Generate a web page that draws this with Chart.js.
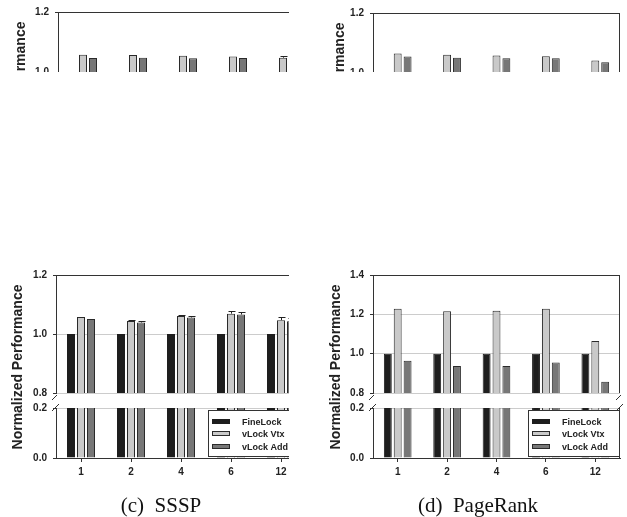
<!DOCTYPE html>
<html>
<head>
<meta charset="utf-8">
<script src="https://cdn.jsdelivr.net/npm/chart.js@4.4.0/dist/chart.umd.min.js"></script>
<style>
body { margin: 0; background: #fff; width: 627px; height: 517px; overflow: hidden; position: relative; }
.panel { position: absolute; overflow: hidden; }
.panel canvas { position: absolute; left: 0; }
.ytitle { position: absolute; width: 220px; height: 16px; line-height: 16px; text-align: center; font: bold 14px 'Liberation Sans', Arial, sans-serif; color: #222; transform: rotate(-90deg); white-space: nowrap; }
.caption { position: absolute; width: 200px; line-height: 24px; text-align: center; font: 21px 'Liberation Serif', 'Times New Roman', serif; color: #111; white-space: pre; }
</style>
</head>
<body>
<div class="panel" style="left:0;top:0;width:289px;height:72px;">
  <canvas id="upperA" width="330" height="145" style="top:0"></canvas>
  <div class="ytitle" style="left:-90px;top:95.5px;">Normalized Performance</div>
</div>
<div class="panel" style="left:310px;top:0;width:317px;height:72px;">
  <canvas id="upperB" width="317" height="145" style="top:0"></canvas>
  <div class="ytitle" style="left:-81.5px;top:96.5px;">Normalized Performance</div>
</div>
<div class="panel" style="left:0;top:255px;width:289px;height:262px;">
  <canvas id="upperC" width="330" height="145" style="top:5px"></canvas>
  <canvas id="lowerC" width="330" height="90" style="top:140px"></canvas>
  <div class="ytitle" style="left:-93px;top:104px;">Normalized Performance</div>
  <div class="caption" style="left:61px;top:238px;">(c)  SSSP</div>
</div>
<div class="panel" style="left:310px;top:255px;width:317px;height:262px;">
  <canvas id="upperD" width="317" height="145" style="top:5px"></canvas>
  <canvas id="lowerD" width="317" height="90" style="top:140px"></canvas>
  <div class="ytitle" style="left:-85px;top:104px;">Normalized Performance</div>
  <div class="caption" style="left:68px;top:238px;">(d)  PageRank</div>
</div>
<script>
var threads = ['1', '2', '4', '6', '12'];
var seriesNames = ['FineLock', 'vLock Vtx', 'vLock Add'];

var fineLock = [1.0, 1.0, 1.0, 1.0, 1.0];

// top-left panel (only its top is visible)
var vtxA = [1.059, 1.058, 1.055, 1.053, 1.049];
var addA = [1.048, 1.049, 1.047, 1.048, 1.044];
var vtxErrA = [0, 0, 0, 0, 0.004];
var addErrA = [0, 0, 0, 0, 0];

// top-right panel
var vtxB = [1.065, 1.061, 1.058, 1.056, 1.042];
var addB = [1.055, 1.051, 1.049, 1.049, 1.036];
var vtxErrB = [0, 0, 0, 0, 0];
var addErrB = [0, 0, 0, 0, 0];

// (c) SSSP
var vtxC = [1.058, 1.044, 1.061, 1.069, 1.047];
var addC = [1.051, 1.039, 1.056, 1.066, 1.043];
var vtxErrC = [0, 0.005, 0.003, 0.009, 0.011];
var addErrC = [0, 0.006, 0.004, 0.008, 0.010];

// (d) PageRank
var vtxD = [1.229, 1.216, 1.218, 1.229, 1.065];
var addD = [0.964, 0.937, 0.937, 0.955, 0.857];
var vtxErrD = [0, 0, 0, 0, 0];
var addErrD = [0, 0, 0, 0, 0];

var upperTicks = [0.8, 1.0, 1.2];
var upperTicksD = [0.8, 1.0, 1.2, 1.4];
var lowerTicks = [0.0, 0.2];

var labelFont = { family: 'Liberation Sans', size: 10, weight: 'bold' };

var errorBarsPlugin = {
    id: 'errorBars',
    afterDatasetsDraw: function (chart) {
        var ctx = chart.ctx;
        var a = chart.chartArea;
        var y = chart.scales.y;
        ctx.save();
        ctx.beginPath();
        ctx.rect(a.left, a.top - 1, a.right - a.left, a.bottom - a.top + 1);
        ctx.clip();
        ctx.strokeStyle = '#222';
        ctx.lineWidth = 1;
        chart.data.datasets.forEach(function (ds, i) {
            if (!ds.errors) return;
            chart.getDatasetMeta(i).data.forEach(function (bar, j) {
                var e = ds.errors[j];
                if (!e) return;
                var top = Math.round(y.getPixelForValue(ds.data[j] + e)) + 0.5;
                var x = Math.round(bar.x) + 0.5;
                ctx.beginPath();
                ctx.moveTo(x, bar.y);
                ctx.lineTo(x, top);
                ctx.moveTo(x - 3, top);
                ctx.lineTo(x + 4, top);
                ctx.stroke();
            });
        });
        ctx.restore();
    }
};

var framePlugin = {
    id: 'frame',
    afterDatasetsDraw: function (chart, args, opts) {
        var a = chart.chartArea;
        var ctx = chart.ctx;
        ctx.save();
        ctx.strokeStyle = '#333';
        ctx.lineWidth = 1;
        if (opts.right) {
            var rx = Math.round(a.right) - 0.5;
            ctx.beginPath();
            ctx.moveTo(rx, a.top);
            ctx.lineTo(rx, a.bottom);
            ctx.stroke();
        }
        if (opts.breakGap) {
            var xs = [a.left];
            if (opts.right) xs.push(a.right);
            xs.forEach(function (x) {
                [a.top - opts.breakGap, a.top].forEach(function (y) {
                    ctx.beginPath();
                    ctx.moveTo(x - 4, y + 3);
                    ctx.lineTo(x + 3, y - 4);
                    ctx.stroke();
                });
            });
        }
        if (opts.legendLeft) {
            var lx = Math.round(a.left + opts.legendLeft);
            var ly = Math.round(a.top) + 2;
            var lw = opts.legendWidth;
            var lh = Math.round(a.bottom) - 1 - ly;
            ctx.fillStyle = '#fff';
            ctx.fillRect(lx, ly, lw, lh);
            ctx.strokeRect(lx + 0.5, ly + 0.5, lw - 1, lh - 1);
            ctx.font = 'bold 9px "Liberation Sans"';
            ctx.textBaseline = 'middle';
            chart.data.datasets.forEach(function (ds, i) {
                var ry = ly + 12 + Math.round(i * 12.3);
                ctx.fillStyle = ds.backgroundColor;
                ctx.fillRect(lx + 4, ry - 3, 18, 5);
                ctx.strokeStyle = ds.borderColor;
                ctx.strokeRect(lx + 4.5, ry - 2.5, 17, 4);
                ctx.fillStyle = '#222';
                ctx.fillText(ds.label, lx + 34, ry + 0.5);
            });
        }
        ctx.restore();
    }
};

function barData(vtx, add, vtxErr, addErr) {
    return {
        labels: threads,
        datasets: [
            { label: seriesNames[0], data: fineLock.slice(), backgroundColor: '#1e1e1e', borderColor: '#1e1e1e', borderWidth: 1 },
            { label: seriesNames[1], data: vtx.slice(), errors: vtxErr, backgroundColor: '#c9c9c9', borderColor: '#2a2a2a', borderWidth: 1 },
            { label: seriesNames[2], data: add.slice(), errors: addErr, backgroundColor: '#777777', borderColor: '#2a2a2a', borderWidth: 1 }
        ]
    };
}

function yAxis(ticks, width, darkValue) {
    return {
        min: ticks[0],
        max: ticks[ticks.length - 1],
        afterFit: function (s) { s.width = width; },
        afterBuildTicks: function (s) {
            s.ticks = ticks.map(function (v) { return { value: v }; });
        },
        ticks: {
            padding: 6,
            color: '#222',
            font: labelFont,
            callback: function (v) { return Number(v).toFixed(1); }
        },
        grid: {
            color: function (c) {
                return Math.abs(c.tick.value - darkValue) < 1e-6 ? '#333' : '#cccccc';
            },
            tickColor: '#333',
            tickLength: 3
        },
        border: { color: '#333' }
    };
}

function createUpper(id, vtx, add, vtxErr, addErr, ticks, yWidth, padTop, padRight) {
    var config = {
        type: 'bar',
        data: barData(vtx, add, vtxErr, addErr),
        options: {
            responsive: false,
            animation: false,
            events: [],
            categoryPercentage: 0.6,
            barPercentage: 0.8,
            layout: { padding: { top: padTop, right: padRight, bottom: 8, left: 0 } },
            scales: {
                x: { display: false },
                y: yAxis(ticks, yWidth, ticks[ticks.length - 1])
            },
            plugins: {
                legend: { display: false },
                tooltip: { enabled: false },
                frame: { right: true }
            }
        },
        plugins: [errorBarsPlugin, framePlugin]
    };
    return new Chart(document.getElementById(id), config);
}

function createLower(id, vtx, add, yWidth, padRight, legendLeft, legendWidth) {
    var config = {
        type: 'bar',
        data: barData(vtx, add, null, null),
        options: {
            responsive: false,
            animation: false,
            events: [],
            categoryPercentage: 0.6,
            barPercentage: 0.8,
            layout: { padding: { top: 13, right: padRight, bottom: 0, left: 0 } },
            scales: {
                x: {
                    afterFit: function (s) { s.height = 27; },
                    ticks: { padding: 4, color: '#222', font: labelFont },
                    grid: { offset: false, drawOnChartArea: false, tickLength: 4, color: '#333' },
                    border: { color: '#333' }
                },
                y: yAxis(lowerTicks, yWidth, lowerTicks[0])
            },
            plugins: {
                legend: { display: false },
                tooltip: { enabled: false },
                frame: { right: true, breakGap: 11, legendLeft: legendLeft, legendWidth: legendWidth }
            }
        },
        plugins: [framePlugin]
    };
    return new Chart(document.getElementById(id), config);
}

createUpper('upperA', vtxA, addA, vtxErrA, addErrA, upperTicks, 58, 11, 22);
createUpper('upperB', vtxB, addB, vtxErrB, addErrB, upperTicks, 63, 13, 7);
createUpper('upperC', vtxC, addC, vtxErrC, addErrC, upperTicks, 56, 15, 24);
createLower('lowerC', vtxC, addC, 56, 24, 152, 98);
createUpper('upperD', vtxD, addD, vtxErrD, addErrD, upperTicksD, 63, 15, 7);
createLower('lowerD', vtxD, addD, 63, 7, 155, 92);
</script>
</body>
</html>
